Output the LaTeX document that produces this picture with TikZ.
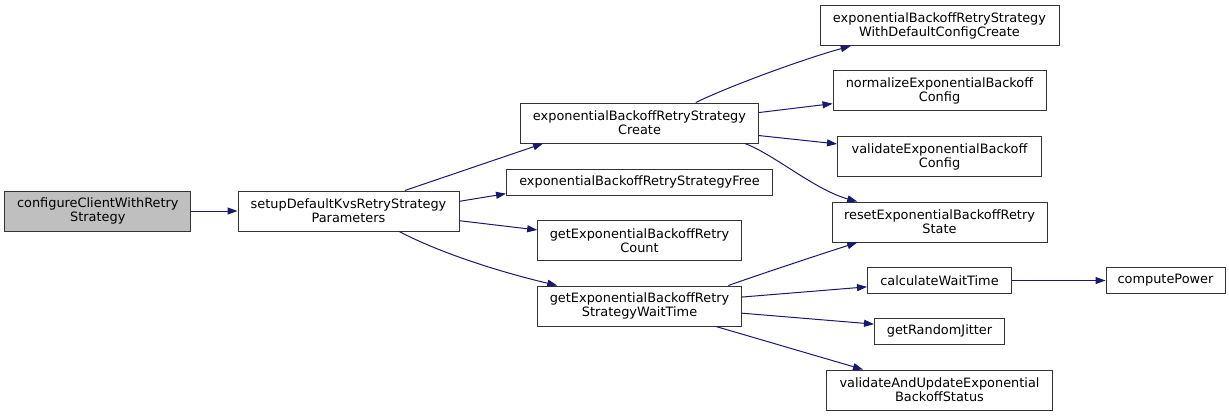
\documentclass[tikz,border=0pt]{standalone}
\usepackage{fontspec}
\setmainfont{DejaVu Sans}
\usetikzlibrary{arrows.meta}
\definecolor{edgeblue}{HTML}{191970}
\definecolor{rootfill}{HTML}{BFBFBF}
\definecolor{boxline}{HTML}{333333}
\begin{document}
\begin{tikzpicture}[x=1pt,y=-1pt,
  fn/.style={draw=boxline, line width=1pt, fill=white, inner sep=0pt, align=center,
             font=\fontsize{12.9}{14}\selectfont, minimum height=40pt},
  fnone/.style={fn, minimum height=26pt},
  root/.style={fn, fill=rootfill},
  call/.style={draw=edgeblue, line width=1pt, -{Triangle[length=10pt,width=7pt]}}]
\useasboundingbox (0,0) rectangle (1229,416);

\node[root, minimum width=185.7pt] (conf) at (97.8,211) {configureClientWithRetry\\Strategy};
\node[fn, minimum width=221pt] (setup) at (348.5,211) {setupDefaultKvsRetryStrategy\\Parameters};
\node[fn, minimum width=237.3pt] (create) at (639.5,123) {exponentialBackoffRetryStrategy\\Create};
\node[fnone, minimum width=266pt] (free) at (639.5,182) {exponentialBackoffRetryStrategyFree};
\node[fn, minimum width=203.6pt] (count) at (639.5,240.7) {getExponentialBackoffRetry\\Count};
\node[fn, minimum width=203.6pt] (wait) at (639.5,306) {getExponentialBackoffRetry\\StrategyWaitTime};
\node[fn, minimum width=239pt] (withdef) at (939.5,25.5) {exponentialBackoffRetryStrategy\\WithDefaultConfigCreate};
\node[fn, minimum width=213pt] (norm) at (939.5,90.5) {normalizeExponentialBackoff\\Config};
\node[fn, minimum width=204pt] (valcfg) at (939.5,156.5) {validateExponentialBackoff\\Config};
\node[fn, minimum width=215pt] (reset) at (939.5,222) {resetExponentialBackoffRetry\\State};
\node[fnone, minimum width=144pt] (calc) at (939.5,280.5) {calculateWaitTime};
\node[fnone, minimum width=119pt] (power) at (1165.5,280.5) {computePower};
\node[fnone, minimum width=130pt] (jitter) at (939.5,331) {getRandomJitter};
\node[fn, minimum width=226pt] (vau) at (939.5,390) {validateAndUpdateExponential\\BackoffStatus};

\draw[call] (conf.east) -- (setup.west);
\draw[call] (setup.20.15) -- (create.192.33);
\draw[call] (setup.5.68) -- (free.185.16);
\draw[call] (setup.-5.68) -- (count.174.54);
\draw[call] (setup.-22.4) .. controls (440,253) and (500,272) .. (wait.166.98);

\draw[call] (create.20.22) .. controls (725,88) and (800,60) .. (withdef.193.32);
\draw[call] (create.5.92) -- (norm.187.22);
\draw[call] (create.-6.59) -- (valcfg.173.96);
\draw[call] (create.-11.59) .. controls (775,155) and (815,190) .. (reset.166.68);

\draw[call] (wait.13.5) .. controls (755,276) and (815,256) .. (reset.194.47);
\draw[call] (wait.5.2) -- (calc.185.5);
\draw[call] (calc.east) -- (power.west);
\draw[call] (wait.-4.5) -- (jitter.174.73);
\draw[call] (wait.-15.3) -- (vau.165.53);
\end{tikzpicture}
\end{document}
